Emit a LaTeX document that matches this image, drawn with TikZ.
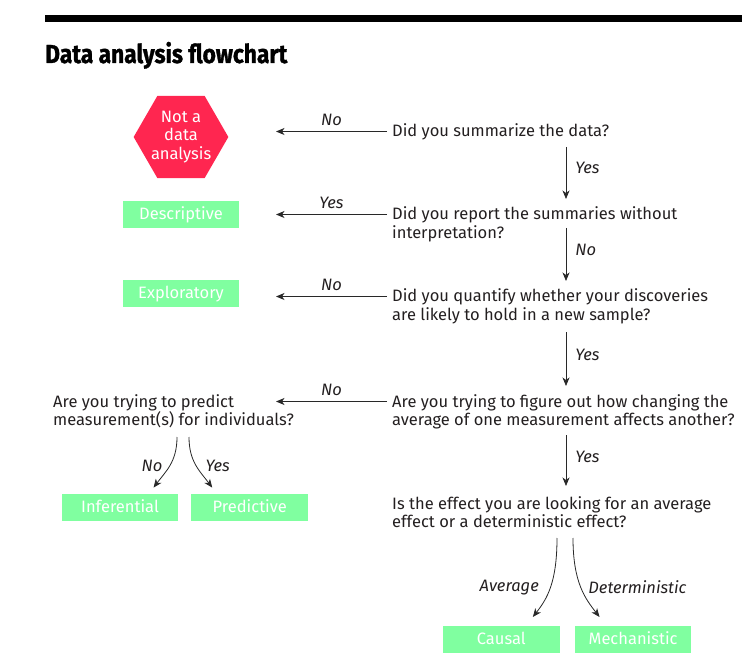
\documentclass[tikz,border=0pt]{standalone}
\usepackage{fontspec}
\setmainfont{Fira Sans}
\newfontfamily\titlefont{Fira Sans}[BoldFeatures={FakeBold=1.2,FakeStretch=0.875}]
\usepackage{color}
\usetikzlibrary{arrows.meta,shapes.geometric,positioning}

\definecolor{hexred}{RGB}{255,38,80}
\definecolor{resgreen}{RGB}{128,255,160}
\definecolor{ink}{RGB}{35,31,32}
\definecolor{lineink}{RGB}{40,40,40}
\newcommand{\qsize}{\fontsize{16.5pt}{18.5pt}\selectfont}

\begin{document}
\begin{tikzpicture}[x=1pt,y=-1pt,
  question/.style={anchor=base west,align=left,inner sep=0pt,text=ink,font=\qsize},
  result/.style={fill=resgreen,text=white,minimum width=116.7pt,minimum height=27pt,inner sep=0pt,
    text depth=3pt,text height=13pt,font=\qsize},
  answer/.style={font=\qsize\itshape,text=ink,inner sep=1pt},
  flow/.style={draw=lineink,line width=0.8pt,-{Stealth[length=8.5pt,width=7pt,inset=2.5pt]}}]

  \useasboundingbox (0,0) rectangle (742,660);
  \fill[black] (45,15) rectangle (742,22.5);
  \node[anchor=base west,inner sep=0pt,font=\titlefont\fontsize{26pt}{30pt}\selectfont\bfseries] (title) at (45,63)
    {Data analysis flowchart};

  % questions (base = last line)
  \node[question] (q1) at (392,137) {Did you summarize the data?};
  \node[question] (q2) at (392,238.5) {Did you report the summaries without\\interpretation?};
  \node[question] (q3) at (392,320.5) {Did you quantify whether your discoveries\\are likely to hold in a new sample?};
  \node[question] (q4) at (392,425.5) {Are you trying to figure out how changing the\\average of one measurement affects another?};
  \node[question] (q5) at (392,527.5) {Is the effect you are looking for an average\\effect or a deterministic effect?};
  \node[question] (q6) at (53,425.5) {Are you trying to predict\\measurement(s) for individuals?};

  % outcomes
  \node[regular polygon,regular polygon sides=6,minimum size=94pt,inner sep=-1pt,
    fill=hexred,text=white,align=center,font=\qsize] (nota) at (181,137) {\raisebox{-2pt}{\parbox{60pt}{\centering Not a\\data\\analysis}}};
  \node[result] (desc) at (181,215) {Descriptive};
  \node[result] (expl) at (181,293.3) {Exploratory};
  \node[result] (infer) at (120,507.3) {Inferential};
  \node[result] (pred) [right=12.7pt of infer] {Predictive};
  \node[result] (causal) at (501.3,639.7) {Causal};
  \node[result] (mech) [right=14.7pt of causal] {Mechanistic};

  \coordinate (stop) at (276,0);
  \coordinate (col) at (566,0);
  \coordinate (fork6) at (183,437);
  \coordinate (fork5) at (565,538);

  % answers to the left
  \draw[flow] ([shift={(-5pt,5.5pt)}]q1.base west) -- ([yshift=5.5pt]q1.base west -| stop)
    node[answer,midway,anchor=base,yshift=6pt] {No};
  \draw[flow] ([shift={(-5pt,24pt)}]q2.base west) -- ([yshift=24pt]q2.base west -| stop)
    node[answer,midway,anchor=base,yshift=6pt] {Yes};
  \draw[flow] ([shift={(-5pt,24pt)}]q3.base west) -- ([yshift=24pt]q3.base west -| stop)
    node[answer,midway,anchor=base,yshift=6pt] {No};
  \draw[flow] ([shift={(-5pt,24pt)}]q4.base west) -- ([yshift=24pt]q4.base west -| stop)
    node[answer,midway,anchor=base,yshift=6pt] {No};

  % answers downwards
  \draw[flow] ([yshift=-10pt]q1.base west -| col) -- ([yshift=39.5pt]q2.base west -| col)
    node[answer,pos=0.4,right=8pt] {Yes};
  \draw[flow] ([yshift=10.5pt]q2.base west -| col) -- ([yshift=39.5pt]q3.base west -| col)
    node[answer,pos=0.42,right=8pt] {No};
  \draw[flow] ([yshift=-12pt]q3.base west -| col) -- ([yshift=39.5pt]q4.base west -| col)
    node[answer,pos=0.42,right=8pt] {Yes};
  \draw[flow] ([yshift=-9.5pt]q4.base west -| col) -- ([yshift=41.5pt]q5.base west -| col)
    node[answer,pos=0.42,right=8pt] {Yes};

  % forks
  \draw[flow] ([xshift=-6pt]fork6) .. controls +(0,25) and +(12,-16) .. ([shift={(-25pt,6pt)}]infer.north east)
    node[answer,pos=0.5,left=6pt] {No};
  \draw[flow] ([xshift=6pt]fork6) .. controls +(0,25) and +(-12,-16) .. ([shift={(21pt,6pt)}]pred.north west)
    node[answer,pos=0.5,right=8pt] {Yes};
  \draw[flow] ([xshift=-8pt]fork5) .. controls +(0,45) and +(14,-18) .. ([shift={(-27pt,9pt)}]causal.north east)
    node[answer,pos=0.5,left=10pt] {Average};
  \draw[flow] ([xshift=8pt]fork5) .. controls +(0,45) and +(-14,-18) .. ([shift={(25pt,9pt)}]mech.north west)
    node[answer,pos=0.5,right=6pt] {Deterministic};

\end{tikzpicture}
\end{document}
